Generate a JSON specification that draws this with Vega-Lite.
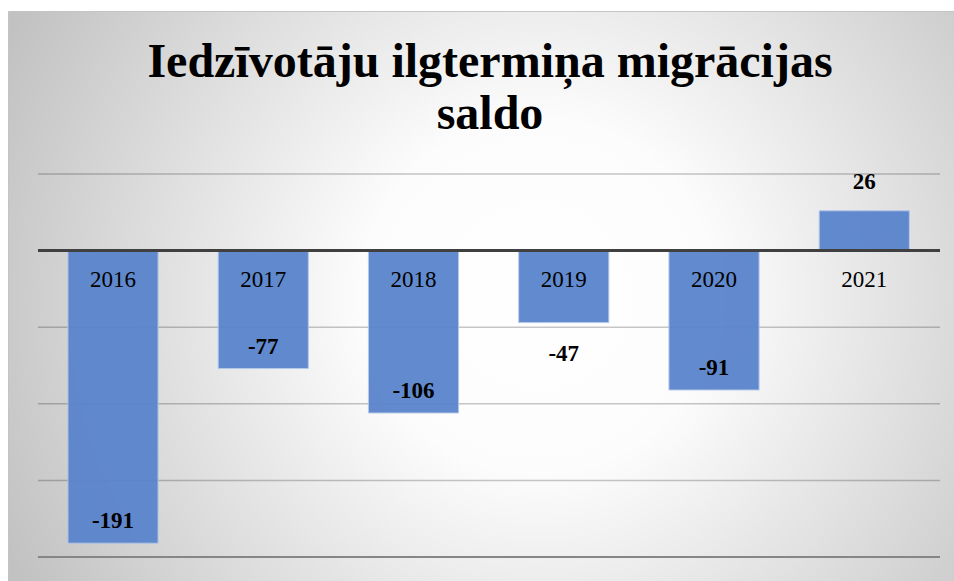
{
  "$schema": "https://vega.github.io/schema/vega-lite/v6.json",
  "width": 946,
  "height": 570,
  "autosize": {"type": "none"},
  "padding": {"left": 8, "top": 11, "right": 0, "bottom": 0},
  "background": "#ffffff",
  "config": {
    "view": {
      "fill": {
        "gradient": "radial",
        "x1": 0.56, "y1": 0.5, "r1": 0,
        "x2": 0.56, "y2": 0.5, "r2": 0.62,
        "stops": [
          {"offset": 0, "color": "#ffffff"},
          {"offset": 0.3, "color": "#fcfcfc"},
          {"offset": 1, "color": "#c2c2c2"}
        ]
      },
      "stroke": "#c4c4c4",
      "strokeWidth": 1
    },
    "font": "Liberation Serif"
  },
  "title": {
    "text": ["Iedzīvotāju ilgtermiņa migrācijas", "saldo"],
    "font": "Liberation Serif",
    "fontSize": 48,
    "fontWeight": "bold",
    "color": "#000000",
    "anchor": "middle",
    "frame": "group",
    "lineHeight": 52,
    "baseline": "top",
    "offset": -128,
    "dx": 9
  },
  "data": {
    "values": [
      {"year": "2016", "value": -191},
      {"year": "2017", "value": -77},
      {"year": "2018", "value": -106},
      {"year": "2019", "value": -47},
      {"year": "2020", "value": -91},
      {"year": "2021", "value": 26}
    ]
  },
  "encoding": {
    "x": {
      "field": "year",
      "type": "nominal",
      "axis": null,
      "scale": {
        "type": "band",
        "domain": ["2016", "2017", "2018", "2019", "2020", "2021"],
        "paddingInner": 0.4,
        "paddingOuter": 0.348,
        "align": 0.573
      }
    }
  },
  "layer": [
    {
      "data": {"values": [{"v": -150}, {"v": -100}, {"v": -50}, {"v": 50}]},
      "mark": {"type": "rule", "stroke": "#000000", "strokeOpacity": 0.22, "strokeWidth": 1.5},
      "encoding": {
        "x": {"datum": "2016", "type": "nominal", "bandPosition": -0.332},
        "x2": {"datum": "2021", "bandPosition": 1.34},
        "y": {"field": "v", "type": "quantitative", "axis": null, "scale": {"domain": [-215.67, 156.4], "nice": false, "zero": false}}
      }
    },
    {
      "data": {"values": [{"v": -200}]},
      "mark": {"type": "rule", "stroke": "#868686", "strokeWidth": 2},
      "encoding": {
        "x": {"datum": "2016", "type": "nominal", "bandPosition": -0.332},
        "x2": {"datum": "2021", "bandPosition": 1.34},
        "y": {"field": "v", "type": "quantitative"}
      }
    },
    {
      "mark": {"type": "bar", "color": "#5a84cc", "opacity": 0.95, "stroke": "#b4c7e7", "strokeWidth": 1},
      "encoding": {
        "y": {"field": "value", "type": "quantitative"}
      }
    },
    {
      "data": {"values": [{"v": 0}]},
      "mark": {"type": "rule", "stroke": "#404040", "strokeWidth": 3},
      "encoding": {
        "x": {"datum": "2016", "type": "nominal", "bandPosition": -0.332},
        "x2": {"datum": "2021", "bandPosition": 1.34},
        "y": {"field": "v", "type": "quantitative"}
      }
    },
    {
      "mark": {"type": "text", "font": "Liberation Serif", "fontSize": 23, "color": "#000000", "baseline": "middle", "dy": 29},
      "encoding": {
        "y": {"datum": 0, "type": "quantitative"},
        "text": {"field": "year"}
      }
    },
    {
      "transform": [{"filter": "datum.value < 0 && datum.year != '2019'"}],
      "mark": {"type": "text", "font": "Liberation Serif", "fontSize": 23, "fontWeight": "bold", "color": "#000000", "baseline": "middle", "dy": -22},
      "encoding": {
        "y": {"field": "value", "type": "quantitative"},
        "text": {"field": "value"}
      }
    },
    {
      "transform": [{"filter": "datum.year == '2019'"}],
      "mark": {"type": "text", "font": "Liberation Serif", "fontSize": 23, "fontWeight": "bold", "color": "#000000", "baseline": "middle", "dy": 31},
      "encoding": {
        "y": {"field": "value", "type": "quantitative"},
        "text": {"field": "value"}
      }
    },
    {
      "transform": [{"filter": "datum.value > 0"}],
      "mark": {"type": "text", "font": "Liberation Serif", "fontSize": 23, "fontWeight": "bold", "color": "#000000", "baseline": "middle", "dy": -29},
      "encoding": {
        "y": {"field": "value", "type": "quantitative"},
        "text": {"field": "value"}
      }
    }
  ]
}
